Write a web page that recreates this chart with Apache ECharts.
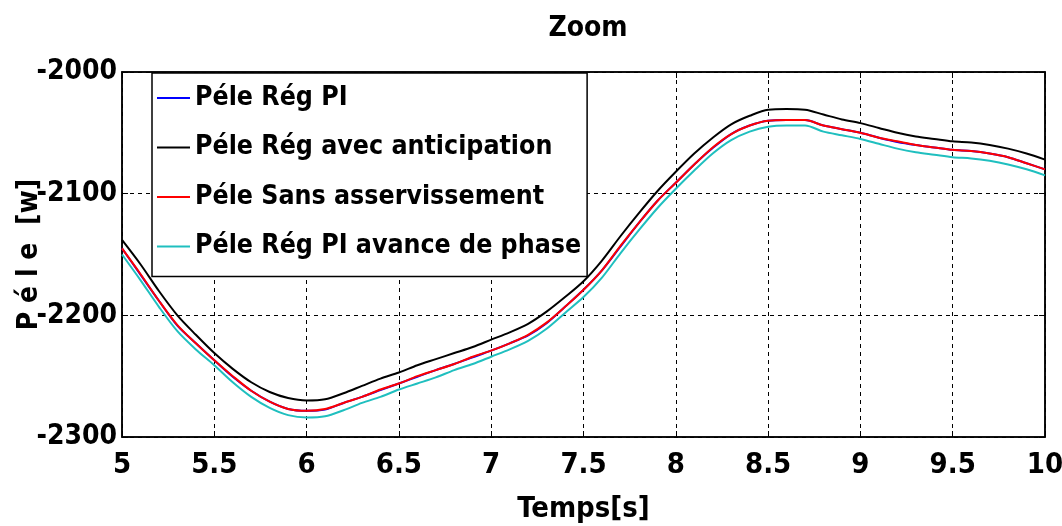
<!DOCTYPE html>
<html>
<head>
<meta charset="utf-8">
<script src="https://cdn.jsdelivr.net/npm/echarts@6/dist/echarts.min.js"></script>
<style>
html,body{margin:0;padding:0;background:#fff;}
#chart{width:1062px;height:526px;}
</style>
</head>
<body>
<div id="chart"></div>
<script>
const FONT = "'Liberation Sans Narrow', 'Arial Narrow', 'DejaVu Sans Condensed', sans-serif";

const titleText = 'Zoom';
const xName = 'Temps[s]';
const yName = 'P é l e  [w]';

const time = [5.0,5.1,5.2,5.3,5.4,5.5,5.6,5.7,5.8,5.9,6.0,6.1,6.2,6.3,6.4,6.5,6.6,6.7,6.8,6.9,7.0,7.1,7.2,7.3,7.4,7.5,7.6,7.7,7.8,7.9,8.0,8.1,8.2,8.3,8.4,8.5,8.6,8.7,8.8,8.9,9.0,9.1,9.2,9.3,9.4,9.5,9.6,9.7,9.8,9.9,10.0];

const seriesNames = ['Péle Rég PI','Péle Rég avec anticipation','Péle Sans asservissement','Péle Rég PI avance de phase'];

const regPI = [-2145,-2166.5,-2188,-2208.5,-2223,-2237,-2250.5,-2262,-2271,-2277,-2278.5,-2277.5,-2272,-2267,-2261.5,-2256,-2250.5,-2245,-2240,-2234.5,-2229,-2223,-2216.5,-2206.5,-2193,-2179,-2163,-2143.5,-2124,-2106,-2091,-2076,-2062.5,-2051,-2044,-2040,-2039.5,-2039.5,-2044,-2047,-2050,-2054,-2057.5,-2060,-2062,-2064,-2065,-2067,-2070,-2075,-2080];
const regAntic = [-2138,-2158,-2180,-2200,-2216,-2231,-2244,-2255,-2263,-2268,-2270,-2269,-2264,-2258,-2252,-2247,-2241,-2236,-2231,-2226,-2220,-2214,-2207,-2197,-2185,-2172,-2155,-2135,-2116,-2098,-2082,-2067,-2054,-2043,-2036,-2031,-2030.5,-2031,-2035,-2039,-2042,-2046,-2050,-2053,-2055,-2057,-2058,-2060,-2063,-2067,-2072];
const sansAsserv = [-2145,-2166,-2188,-2208,-2223,-2237,-2250,-2262,-2271,-2277,-2278.5,-2277,-2272,-2267,-2261,-2256,-2250,-2245,-2240,-2234,-2229,-2223,-2216,-2206,-2193,-2179,-2163,-2143,-2124,-2106,-2091,-2076,-2062,-2051,-2044,-2040,-2039.5,-2039.5,-2044,-2047,-2050,-2054,-2057,-2060,-2062,-2064,-2065,-2067,-2070,-2075,-2080];
const regPIAvance = [-2150,-2171,-2193,-2213,-2228,-2241,-2255,-2267,-2276,-2282,-2284,-2283,-2278,-2272,-2267,-2261,-2256,-2251,-2245,-2240,-2234,-2228,-2221,-2211,-2198,-2185,-2169,-2149,-2130,-2112,-2096,-2081,-2067,-2056,-2049,-2045,-2044,-2044,-2049,-2052,-2055,-2059,-2063,-2066,-2068,-2070,-2071,-2073,-2076,-2080,-2085];

const seriesValues = [regPI, regAntic, sansAsserv, regPIAvance];
const seriesColors = ['#0000ff','#000000','#ff0000','#1fbfbf'];

const chart = echarts.init(document.getElementById('chart'));

const gridLine = {show:true, lineStyle:{color:'#000', type:[4,4], width:1}};
const axisLine = {show:true, onZero:false, lineStyle:{color:'#000', width:1.5}};
const tick = {show:true, inside:true, length:6, lineStyle:{color:'#000', width:1}};

const option = {
  animation:false,
  backgroundColor:'#fff',
  title:{
    text:titleText, left:583, top:10, textAlign:'center',
    textStyle:{fontFamily:FONT, fontWeight:'bold', fontSize:28, color:'#000'}
  },
  grid:{left:122, right:17, top:72, bottom:89, show:true, borderColor:'#000', borderWidth:1.5, backgroundColor:'#fff',
    containLabel:false, outerBoundsMode:'none'},
  legend:{
    orient:'vertical', left:152, top:73,
    backgroundColor:'#fff', borderColor:'#000', borderWidth:1.5,
    padding:[5,6,10,5], itemGap:9.5, itemWidth:33, itemHeight:2, icon:'rect',
    textStyle:{fontFamily:FONT, fontWeight:'bold', fontSize:26.5, color:'#000', lineHeight:40},
    data:seriesNames
  },
  xAxis:[{
    type:'value', min:5, max:10, interval:0.5,
    name:xName, nameLocation:'middle', nameGap:58, nameMoveOverlap:false,
    nameTextStyle:{fontFamily:FONT, fontWeight:'bold', fontSize:29, color:'#000'},
    axisLine:axisLine, axisTick:tick, splitLine:gridLine,
    axisLabel:{fontFamily:FONT, fontWeight:'bold', fontSize:29, color:'#000', margin:14, showMaxLabel:true, showMinLabel:true,
      formatter:v=>String(v)}
  },{
    type:'value', min:5, max:10, interval:0.5, position:'top',
    axisLine:axisLine, axisTick:tick, splitLine:{show:false}, axisLabel:{show:false}
  }],
  yAxis:[{
    type:'value', min:-2300, max:-2000, interval:100,
    name:yName, nameLocation:'middle', nameGap:78, nameRotate:90, nameMoveOverlap:false,
    nameTextStyle:{fontFamily:FONT, fontWeight:'bold', fontSize:28, color:'#000'},
    axisLine:axisLine, axisTick:tick, splitLine:gridLine,
    axisLabel:{fontFamily:FONT, fontWeight:'bold', fontSize:28, color:'#000', margin:5,
      formatter:v=>String(v)}
  },{
    type:'value', min:-2300, max:-2000, interval:100, position:'right',
    axisLine:axisLine, axisTick:tick, splitLine:{show:false}, axisLabel:{show:false}
  }],
  series: seriesNames.map((n,i)=>({
    name:n, type:'line', xAxisIndex:0, yAxisIndex:0,
    data: time.map((t,k)=>[t, seriesValues[i][k]]),
    showSymbol:false, symbol:'none', smooth:0.3,
    lineStyle:{color:seriesColors[i], width:2},
    itemStyle:{color:seriesColors[i]}
  }))
};
chart.setOption(option);
</script>
</body>
</html>
